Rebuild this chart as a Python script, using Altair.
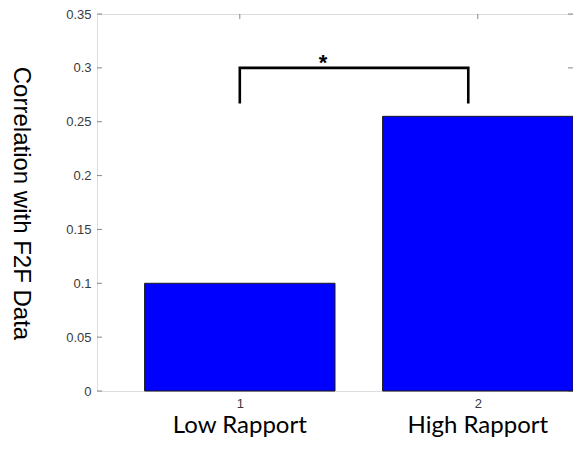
import altair as alt
import pandas as pd

# ---- data ----
categories = [1, 2]
category_names = ["Low Rapport", "High Rapport"]
values = [0.100, 0.255]
y_tick_values = [0, 0.05, 0.1, 0.15, 0.2, 0.25, 0.3, 0.35]
x_tick_values = [1, 2]
bracket_x = [1.0, 1.0, 1.96, 1.96]
bracket_y = [0.267, 0.300, 0.300, 0.267]
star_x = [1.35]
star_y = [0.298]
star_text = ["*"]

BAR_HALF = 0.4
x_domain = [0.4, 2.4]
y_domain = [0, 0.35]

bars_df = pd.DataFrame({
    "cat": categories,
    "left": [c - BAR_HALF for c in categories],
    "right": [c + BAR_HALF for c in categories],
    "value": values,
    "name": category_names,
})
yt_df = pd.DataFrame({"v": y_tick_values})
xt_df = pd.DataFrame({"v": x_tick_values})
br_df = pd.DataFrame({"x": bracket_x, "y": bracket_y, "o": list(range(len(bracket_x)))})
star_df = pd.DataFrame({"x": star_x, "y": star_y, "t": star_text})

xs = alt.Scale(domain=x_domain, nice=False, zero=False)
ys = alt.Scale(domain=y_domain, nice=False, zero=False)

x_axis = alt.Axis(values=x_tick_values, format="d", tickSize=0, domain=False, grid=False,
                  labelPadding=6, labelFontSize=13, labelColor="#3a3a3a",
                  labelFont="Liberation Sans", title=None)
y_axis = alt.Axis(values=y_tick_values, format="~g", tickSize=0, domain=False, grid=False,
                  labelPadding=6, labelFontSize=13, labelColor="#3a3a3a",
                  labelFont="Liberation Sans",
                  title="Correlation with F2F Data", titleAngle=90, titleFontSize=24,
                  titleFont="Liberation Sans", titleFontWeight="normal", titleColor="#000",
                  titleX=-77, titleY=189, titleAlign="center", titleBaseline="middle")

bars = alt.Chart(bars_df).mark_bar(color="#0000ff", stroke="#1a1a1a", strokeWidth=1).encode(
    x=alt.X("left:Q", scale=xs, axis=x_axis),
    x2="right:Q",
    y=alt.Y("value:Q", scale=ys, axis=y_axis),
    y2=alt.datum(0),
)

tick_col = "#555555"
left_ticks = alt.Chart(yt_df).mark_tick(orient="horizontal", size=5, thickness=1, color=tick_col, xOffset=2.5).encode(
    x=alt.datum(x_domain[0], scale=xs), y=alt.Y("v:Q", scale=ys))
right_ticks = alt.Chart(yt_df).mark_tick(orient="horizontal", size=5, thickness=1, color=tick_col, xOffset=-2.5).encode(
    x=alt.datum(x_domain[1]), y=alt.Y("v:Q"))
top_ticks = alt.Chart(xt_df).mark_tick(orient="vertical", size=5, thickness=1, color=tick_col, yOffset=2.5).encode(
    x=alt.X("v:Q"), y=alt.datum(y_domain[1]))
bottom_ticks = alt.Chart(xt_df).mark_tick(orient="vertical", size=5, thickness=1, color=tick_col, yOffset=-2.5).encode(
    x=alt.X("v:Q"), y=alt.datum(y_domain[0]))

bracket = alt.Chart(br_df).mark_line(color="black", strokeWidth=2.6, strokeJoin="miter", strokeCap="butt").encode(
    x=alt.X("x:Q"), y=alt.Y("y:Q"), order="o:Q")

star = alt.Chart(star_df).mark_text(fontSize=22, fontWeight="bold", font="Liberation Sans",
                                     color="black", baseline="alphabetic", align="center").encode(
    x=alt.X("x:Q"), y=alt.Y("y:Q"), text="t:N")

names = alt.Chart(bars_df).mark_text(fontSize=24, font="Lato", color="#000", baseline="middle",
                                      align="center").encode(
    x=alt.X("cat:Q"), y=alt.value(412), text="name:N")

chart = alt.layer(left_ticks, right_ticks, top_ticks, bottom_ticks, bars, bracket, star, names).properties(
    width=476, height=377,
    autosize=alt.AutoSizeParams(type="none"),
    padding={"left": 89, "top": 6, "right": 0, "bottom": 49},
).configure_view(stroke="#666666", strokeWidth=1.2).configure(background="white")

chart.save("out.html", embed_options={"renderer": "svg", "actions": False})
